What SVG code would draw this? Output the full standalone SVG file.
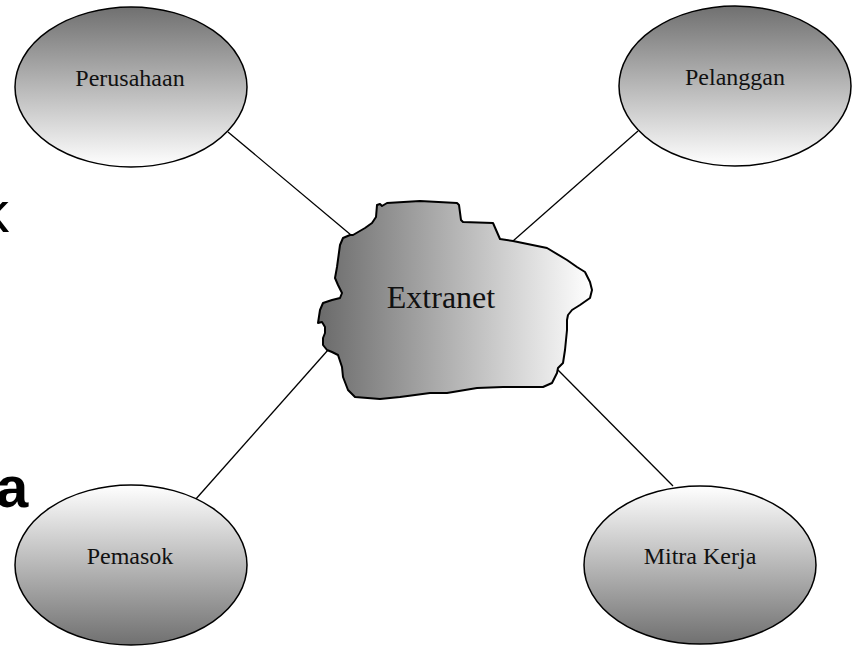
<svg xmlns="http://www.w3.org/2000/svg" width="856" height="646" viewBox="0 0 856 646">
<style>
.node{stroke:#000;stroke-width:1.5}
.lbl{font-family:"Liberation Serif","Times New Roman",serif;font-size:24px;fill:#111;text-anchor:middle}
.conn line{stroke:#000;stroke-width:1.3}
.side{font-family:"Liberation Sans",Arial,sans-serif;font-size:58px;fill:#000}
</style>
<defs>
<linearGradient id="gDown" x1="0" y1="0" x2="0" y2="1">
<stop offset="0" stop-color="#707070"/>
<stop offset="1" stop-color="#ffffff"/>
</linearGradient>
<linearGradient id="gUp" x1="0" y1="0" x2="0" y2="1">
<stop offset="0" stop-color="#ffffff"/>
<stop offset="1" stop-color="#707070"/>
</linearGradient>
<linearGradient id="gBlob" gradientUnits="userSpaceOnUse" x1="318" y1="0" x2="592" y2="0">
<stop offset="0" stop-color="#6a6a6a"/>
<stop offset="1" stop-color="#ffffff"/>
</linearGradient>
</defs>
<text class="side" x="-20" y="232">k</text>
<text class="side" x="-4" y="507" font-weight="bold">a</text>
<g class="conn">
<line x1="228" y1="132" x2="351" y2="235"/>
<line x1="638" y1="131" x2="513" y2="241"/>
<line x1="195" y1="500" x2="328" y2="350"/>
<line x1="673" y1="486" x2="558" y2="370"/>
</g>
<g id="perusahaan">
<ellipse class="node" cx="131" cy="87" rx="116" ry="80" fill="url(#gDown)"/>
<text class="lbl" x="130" y="86">Perusahaan</text>
</g>
<g id="pelanggan">
<ellipse class="node" cx="735" cy="86" rx="116" ry="80" fill="url(#gDown)"/>
<text class="lbl" x="735" y="85">Pelanggan</text>
</g>
<g id="pemasok">
<ellipse class="node" cx="131" cy="565" rx="116" ry="80" fill="url(#gUp)"/>
<text class="lbl" x="130" y="564">Pemasok</text>
</g>
<g id="mitra">
<ellipse class="node" cx="700" cy="565" rx="116" ry="79" fill="url(#gUp)"/>
<text class="lbl" x="700" y="564">Mitra Kerja</text>
</g>
<g id="extranet">
<path d="M350,235 L343,238 L340,245 L337,267 L335,278 L338,285 L342,293 L340,298 L332,300 L323,303 L320,310 L318,323 L322,322 L325,327 L325,333 L323,338 L323,345 L327,350 L332,352 L338,355 L342,367 L343,377 L348,390 L355,397 L380,399 L400,397 L430,393 L447,393 L477,388 L503,387 L543,387 L552,383 L557,373 L558,368 L563,363 L565,350 L567,330 L567,320 L568,315 L572,310 L580,305 L590,298 L592,290 L590,282 L585,272 L577,267 L567,260 L547,248 L513,241 L500,239 L493,223 L463,222 L461,220 L459,205 L457,203 L420,201 L387,203 L382,206 L380,204 L377,205 L376,217 L372,223 L365,228 L353,235 Z" fill="url(#gBlob)" stroke="#000" stroke-width="2" stroke-linejoin="round"/>
<text x="441" y="308" font-family="'Liberation Serif','Times New Roman',serif" font-size="32" fill="#111" text-anchor="middle">Extranet</text>
</g>
</svg>
